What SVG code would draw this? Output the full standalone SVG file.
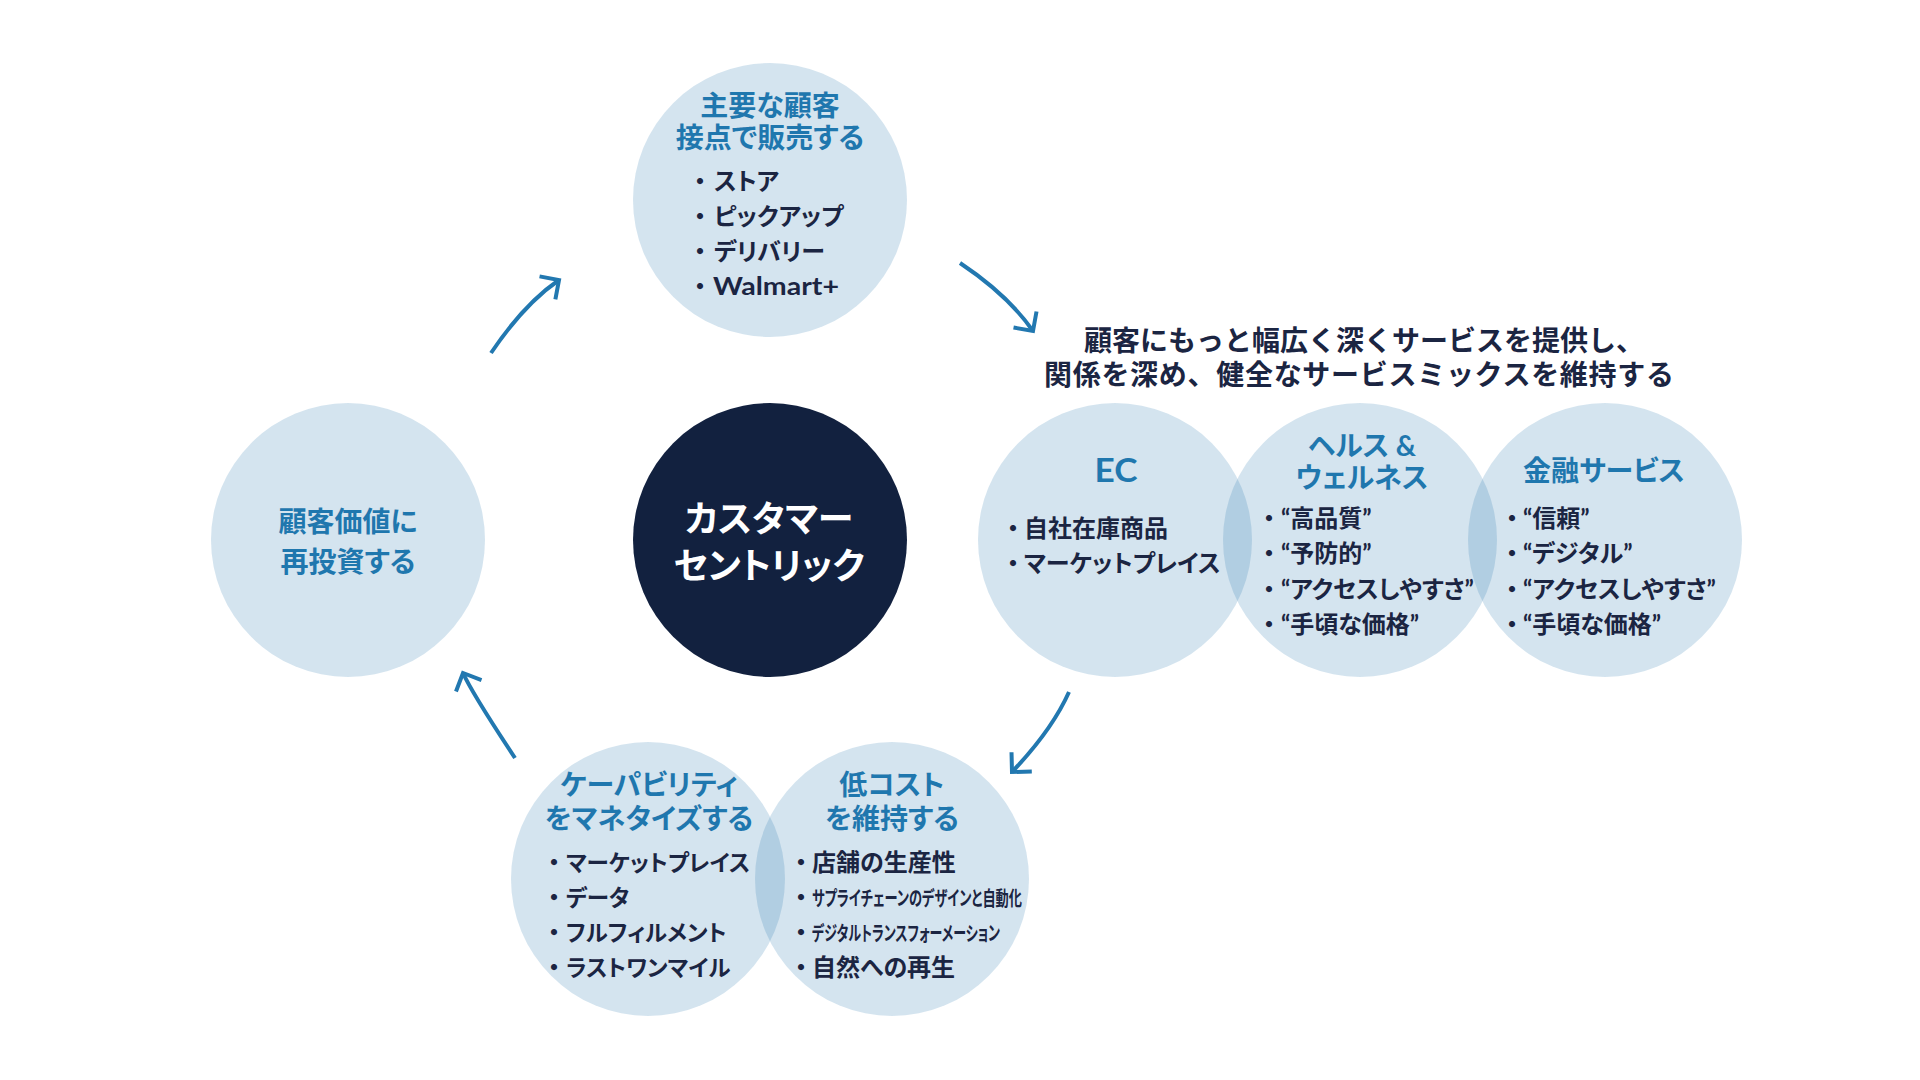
<svg xmlns="http://www.w3.org/2000/svg" width="1920" height="1080" viewBox="0 0 1920 1080">
<defs>
<style>
text{font-family:"Lato","Noto Sans CJK JP","Noto Sans",sans-serif;font-weight:700;}
.lc{fill:#2a7ab0;fill-opacity:0.2;}
.dk{fill:#12213f;}
.ti{fill:#1f77ae;font-size:28px;text-anchor:middle;font-feature-settings:"palt";}
.ct{fill:#ffffff;font-size:36px;text-anchor:middle;font-feature-settings:"palt";}
.bl{fill:#1b2542;font-size:24px;font-feature-settings:"palt";}
.sm{font-size:22.5px;}
.sub{fill:#1b2542;font-size:28px;text-anchor:middle;}
.arrow{fill:none;stroke:#2278b0;stroke-width:4;stroke-linecap:butt;}
</style>
<marker id="ah" markerUnits="userSpaceOnUse" markerWidth="40" markerHeight="40" viewBox="-20 -20 40 40" refX="0" refY="0" orient="auto">
<path d="M-14 -14 L0 0 L-14 14" fill="none" stroke="#2278b0" stroke-width="4"/>
</marker>
</defs>
<rect width="1920" height="1080" fill="#ffffff"/>

<g id="node-sell">
<circle class="lc" cx="770" cy="200" r="137"/>
<text class="ti" x="770" y="116">主要な顧客</text>
<text class="ti" x="770" y="148">接点で販売する</text>
<text class="bl" x="694" y="190">・<tspan x="714">ストア</tspan></text>
<text class="bl" x="694" y="225">・<tspan x="714">ピックアップ</tspan></text>
<text class="bl" x="694" y="260">・<tspan x="714">デリバリー</tspan></text>
<text class="bl" x="694" y="295">・<tspan x="713" textLength="126" lengthAdjust="spacingAndGlyphs">Walmart+</tspan></text>
</g>

<g id="node-reinvest">
<circle class="lc" cx="348" cy="540" r="137"/>
<text class="ti" x="348" y="532">顧客価値に</text>
<text class="ti" x="348" y="572">再投資する</text>
</g>

<g id="node-center">
<circle class="dk" cx="770" cy="540" r="137"/>
<text class="ct" x="769" y="532">カスタマー</text>
<text class="ct" x="769" y="579">セントリック</text>
</g>

<g id="node-subtitle">
<text class="sub" x="1364" y="351">顧客にもっと幅広く深くサービスを提供し、</text>
<text class="sub" x="1359" y="385" textLength="630">関係を深め、健全なサービスミックスを維持する</text>
</g>

<g id="node-ec">
<circle class="lc" cx="1115" cy="540" r="137"/>
<text class="ti" x="1116" y="482" style="font-size:32px" textLength="43" lengthAdjust="spacingAndGlyphs">EC</text>
<text class="bl" x="1007" y="537">・<tspan x="1024">自社在庫商品</tspan></text>
<text class="bl" x="1007" y="572">・<tspan x="1024">マーケットプレイス</tspan></text>
</g>

<g id="node-health">
<circle class="lc" cx="1360" cy="540" r="137"/>
<text class="ti" x="1362" y="456">ヘルス &amp;</text>
<text class="ti" x="1362" y="488">ウェルネス</text>
<text class="bl" x="1263" y="527">・<tspan x="1281">“高品質”</tspan></text>
<text class="bl" x="1263" y="562">・<tspan x="1281">“予防的”</tspan></text>
<text class="bl" x="1263" y="598">・<tspan x="1281">“アクセスしやすさ”</tspan></text>
<text class="bl" x="1263" y="633">・<tspan x="1281">“手頃な価格”</tspan></text>
</g>

<g id="node-finance">
<circle class="lc" cx="1605" cy="540" r="137"/>
<text class="ti" x="1604" y="481">金融サービス</text>
<text class="bl" x="1506" y="527">・<tspan x="1523">“信頼”</tspan></text>
<text class="bl" x="1506" y="562">・<tspan x="1523">“デジタル”</tspan></text>
<text class="bl" x="1506" y="598">・<tspan x="1523">“アクセスしやすさ”</tspan></text>
<text class="bl" x="1506" y="633">・<tspan x="1523">“手頃な価格”</tspan></text>
</g>

<g id="node-monetize">
<circle class="lc" cx="648" cy="879" r="137"/>
<text class="ti" x="649" y="795">ケーパビリティ</text>
<text class="ti" x="649" y="829">をマネタイズする</text>
<text class="bl" x="548" y="871">・<tspan x="566" class="sm">マーケットプレイス</tspan></text>
<text class="bl" x="548" y="906">・<tspan x="566" class="sm">データ</tspan></text>
<text class="bl" x="548" y="941">・<tspan x="566" class="sm">フルフィルメント</tspan></text>
<text class="bl" x="548" y="976">・<tspan x="566" class="sm">ラストワンマイル</tspan></text>
</g>

<g id="node-lowcost">
<circle class="lc" cx="892" cy="879" r="137"/>
<text class="ti" x="892" y="795">低コスト</text>
<text class="ti" x="892" y="829">を維持する</text>
<text class="bl" x="795" y="871">・<tspan x="812">店舗の生産性</tspan></text>
<text class="bl" x="795" y="906">・<tspan x="812" style="font-size:20px" textLength="210" lengthAdjust="spacingAndGlyphs">サプライチェーンのデザインと自動化</tspan></text>
<text class="bl" x="795" y="941">・<tspan x="812" style="font-size:20px" textLength="188" lengthAdjust="spacingAndGlyphs">デジタルトランスフォーメーション</tspan></text>
<text class="bl" x="795" y="976">・<tspan x="812">自然への再生</tspan></text>
</g>

<g id="connectors">
<path class="arrow" d="M491 353 Q524 304 559 280" marker-end="url(#ah)"/>
<path class="arrow" d="M960 263 Q1008 295 1033 331" marker-end="url(#ah)"/>
<path class="arrow" d="M1069 692 Q1052 730 1012 772" marker-end="url(#ah)"/>
<path class="arrow" d="M515 758 Q472 693 463 673" marker-end="url(#ah)"/>
</g>
</svg>
